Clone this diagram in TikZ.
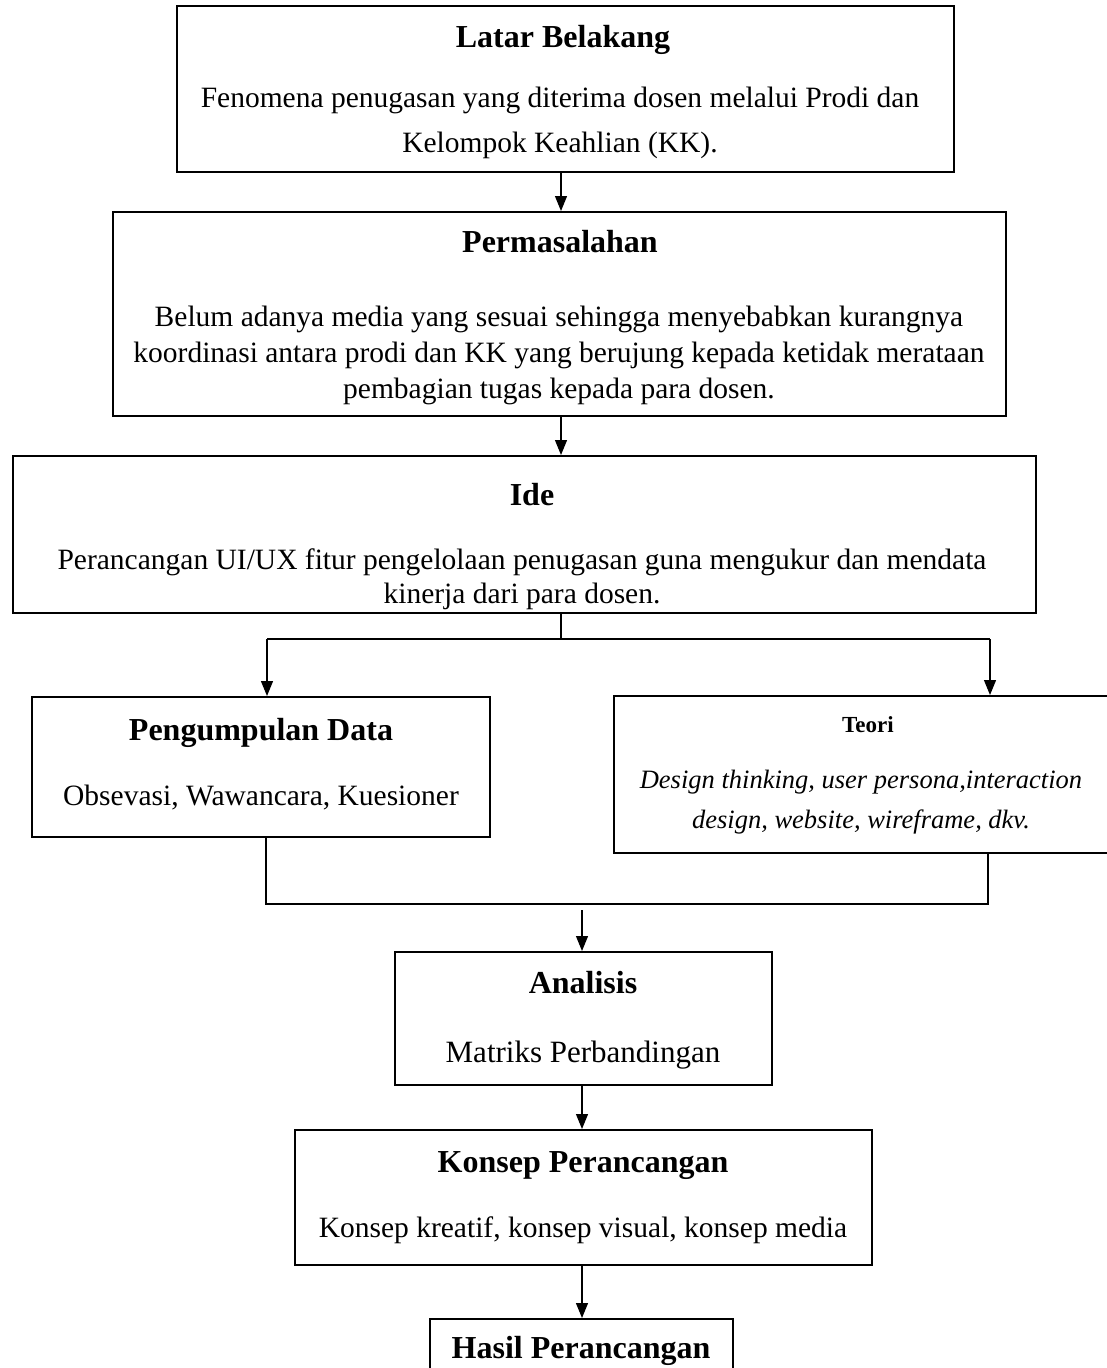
\documentclass[tikz,border=0pt]{standalone}
\usepackage{fontspec}
\setmainfont{Liberation Serif}
\usetikzlibrary{arrows.meta,fit}

\tikzset{every picture/.style={line width=0.75pt}}
\tikzset{
  box/.style={draw, line width=2pt, inner sep=0pt, fit={#1}},
  ttl/.style={anchor=base, inner sep=0pt, font=\fontsize{32}{38}\selectfont\bfseries},
  body/.style={anchor=base, inner sep=0pt, align=center, font=\fontsize{29.5}{#1}\selectfont},
  body/.default=40,
  arr/.style={line width=1.2pt, -{Triangle[length=15pt,width=12pt]}},
  con/.style={line width=1.2pt}
}

\begin{document}
\begin{tikzpicture}[x=1pt,y=1pt,yscale=-1,xscale=1]
            \useasboundingbox (0,0) rectangle (1107,1368);

            %Shape: Rectangle boxes
            \node[box={(177,6) (954,172)}] (latar) {};
            \node[box={(113,212) (1006,416)}] (masalah) {};
            \node[box={(13,456) (1036,613)}] (ide) {};
            \node[box={(32,697) (490,837)}] (data) {};
            \node[box={(614,696) (1116,853)}] (teori) {};
            \node[box={(395,952) (772,1085)}] (analisis) {};
            \node[box={(295,1130) (872,1265)}] (konsep) {};
            \node[box={(430,1319) (733,1400)}] (hasil) {};

            %Text (multi-line nodes sit on their last baseline)
            \node[ttl] (latarT) at (563,47) {Latar Belakang};
            \node[body=45] (latarB) at (560,152) {Fenomena penugasan yang diterima dosen melalui Prodi dan\\Kelompok Keahlian (KK).};
            \node[ttl] (masalahT) at (560,252) {Permasalahan};
            \node[body=36] (masalahB) at (559,398) {Belum adanya media yang sesuai sehingga menyebabkan kurangnya\\koordinasi antara prodi dan KK yang berujung kepada ketidak merataan\\pembagian tugas kepada para dosen.};
            \node[ttl] (ideT) at (532,505) {Ide};
            \node[body=34] (ideB) at (522,603) {Perancangan UI/UX fitur pengelolaan penugasan guna mengukur dan mendata\\kinerja dari para dosen.};
            \node[ttl] (dataT) at (261,740) {Pengumpulan Data};
            \node[body] (dataB) at (261,805) {Obsevasi, Wawancara, Kuesioner};
            \node[ttl, font=\fontsize{23}{28}\selectfont\bfseries] (teoriT) at (868,732) {Teori};
            \node[body, font=\fontsize{26.5}{40}\selectfont\itshape] (teoriB) at (861,828) {Design thinking, user persona,interaction\\design, website, wireframe, dkv.};
            \node[ttl] (analisisT) at (583,993) {Analisis};
            \node[body, font=\fontsize{31}{40}\selectfont] (analisisB) at (583,1062) {Matriks Perbandingan};
            \node[ttl] (konsepT) at (583,1172) {Konsep Perancangan};
            \node[body] (konsepB) at (583,1237) {Konsep kreatif, konsep visual, konsep media};
            \node[ttl] (hasilT) at (581,1358) {Hasil Perancangan};

            %Straight Lines
            \coordinate (mid) at (561,0);
            \coordinate (split) at (561,639);
            \coordinate (bl) at (267,639);
            \coordinate (br) at (990,639);
            \coordinate (jl) at (266,904);
            \coordinate (jr) at (988,904);
            \coordinate (join) at (582,910);

            \draw[arr] (latar.south -| mid) -- (masalah.north -| mid);
            \draw[arr] (masalah.south -| mid) -- (ide.north -| mid);
            \draw[con] (ide.south -| split) -- (split);
            \draw[con] (bl) -- (br);
            \draw[arr] (bl) -- (bl |- data.north);
            \draw[arr] (br) -- (br |- teori.north);
            \draw[con] (data.south -| jl) -- (jl) -- (jr) -- (teori.south -| jr);
            \draw[arr] (join) -- (join |- analisis.north);
            \draw[arr] (analisis.south -| join) -- (konsep.north -| join);
            \draw[arr] (konsep.south -| join) -- (hasil.north -| join);

\end{tikzpicture}
\end{document}
